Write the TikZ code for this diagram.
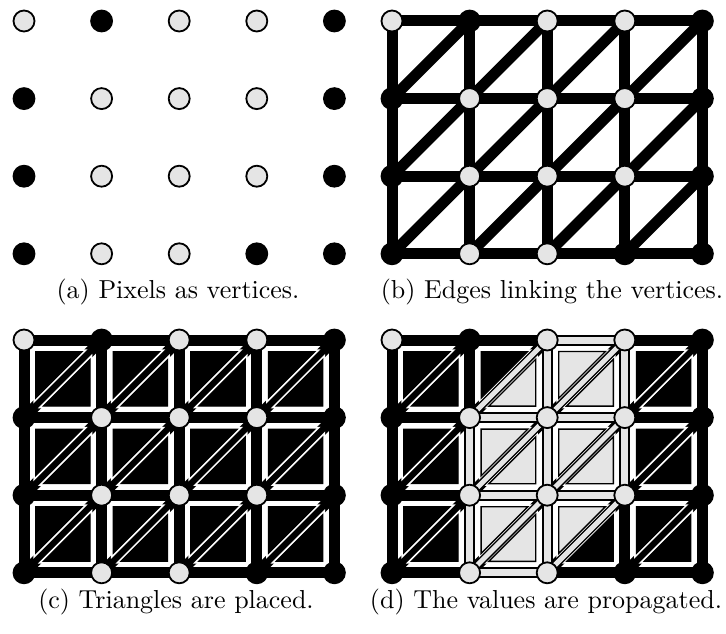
\documentclass[tikz,border=0pt]{standalone}
\usepackage{fontspec}
\definecolor{lgray}{gray}{0.9}
\def\pat{{0,1,0,0,1,1,0,0,0,1,1,0,0,0,1,1,0,0,1,1}}
\tikzset{
  blackedge/.style={line width=11pt, draw=black},
  lightcore/.style={line width=7pt, draw=lgray},
  diagborder/.style={line width=8pt, draw=black},
  diagcore/.style={line width=5pt, draw=lgray},
  vlight/.style={circle, draw=black, line width=1.8pt, fill=lgray, minimum size=21pt, inner sep=0pt},
  vdark/.style={circle, draw=black, line width=1.8pt, fill=black, minimum size=21pt, inner sep=0pt},
  trihalo/.style={draw=white, line width=4.5pt},
  tridark/.style={fill=black, draw=black, line width=1pt},
  trilight/.style={fill=lgray, draw=black, line width=1.4pt},
  captext/.style={font=\fontsize{10}{12}\selectfont, scale=2.6, inner sep=0pt}
}
\newcommand\mkcoords[3]{%
  \foreach \c in {0,...,4}{\foreach \r in {0,...,3}{%
    \coordinate (#1-\c-\r) at ({#2+\c*77.6},{#3+\r*77.6});}}}
\newcommand\mkverts[1]{%
  \foreach \c in {0,...,4}{\foreach \r in {0,...,3}{%
    \pgfmathtruncatemacro\vk{\pat[\r*5+\c]}%
    \ifnum\vk=1 \node[vdark] (v#1-\c-\r) at (#1-\c-\r) {};%
    \else \node[vlight] (v#1-\c-\r) at (#1-\c-\r) {};\fi}}}
\newcommand\mkedges[1]{%
  \foreach \r in {0,...,3}{\foreach \c in {0,...,3}{%
    \pgfmathtruncatemacro\cn{\c+1}%
    \draw[blackedge] (#1-\c-\r) -- (#1-\cn-\r);}}%
  \foreach \c in {0,...,4}{\foreach \r in {0,...,2}{%
    \pgfmathtruncatemacro\rn{\r+1}%
    \draw[blackedge] (#1-\c-\r) -- (#1-\c-\rn);}}%
  \foreach \c in {0,...,3}{\foreach \r in {0,...,2}{%
    \pgfmathtruncatemacro\rn{\r+1}\pgfmathtruncatemacro\cn{\c+1}%
    \draw[blackedge] (#1-\c-\rn) -- (#1-\cn-\r);}}}
\newcommand\mklightcores[1]{%
  \foreach \r in {0,...,3}{\foreach \c in {0,...,3}{%
    \pgfmathtruncatemacro\cn{\c+1}%
    \pgfmathtruncatemacro\sm{\pat[\r*5+\c]+\pat[\r*5+\c+1]}%
    \ifnum\sm=0 \draw[lightcore] (#1-\c-\r) -- (#1-\cn-\r);\fi}}%
  \foreach \c in {0,...,4}{\foreach \r in {0,...,2}{%
    \pgfmathtruncatemacro\rn{\r+1}%
    \pgfmathtruncatemacro\sm{\pat[\r*5+\c]+\pat[(\r+1)*5+\c]}%
    \ifnum\sm=0 \draw[lightcore] (#1-\c-\r) -- (#1-\c-\rn);\fi}}}
\newcommand\mklightdiags[1]{%
  \foreach \c in {0,...,3}{\foreach \r in {0,...,2}{%
    \pgfmathtruncatemacro\rn{\r+1}\pgfmathtruncatemacro\cn{\c+1}%
    \pgfmathtruncatemacro\sm{\pat[(\r+1)*5+\c]+\pat[\r*5+\c+1]}%
    \ifnum\sm=0 \draw[diagborder] (#1-\c-\rn) -- (#1-\cn-\r);
      \draw[diagcore] (#1-\c-\rn) -- (#1-\cn-\r);\fi}}}
\newcommand\mktris[2]{%
  \foreach \c in {0,...,3}{\foreach \r in {0,...,2}{%
    \pgfmathtruncatemacro\su{\pat[\r*5+\c]+\pat[\r*5+\c+1]+\pat[(\r+1)*5+\c]}%
    \pgfmathtruncatemacro\sl{\pat[\r*5+\c+1]+\pat[(\r+1)*5+\c+1]+\pat[(\r+1)*5+\c]}%
    \ifnum#2=0 \def\su{1}\def\sl{1}\fi
    \begin{scope}[shift={(#1-\c-\r)}]
      \draw[trihalo] (11.5,11.5) -- (58.3,11.5) -- (11.5,58.3) -- cycle;
      \draw[trihalo] (66.1,66.1) -- (66.1,19.3) -- (19.3,66.1) -- cycle;
      \ifnum\su=0 \filldraw[trilight] (11.5,11.5) -- (58.3,11.5) -- (11.5,58.3) -- cycle;
      \else \filldraw[tridark] (11.5,11.5) -- (58.3,11.5) -- (11.5,58.3) -- cycle;\fi
      \ifnum\sl=0 \filldraw[trilight] (66.1,66.1) -- (66.1,19.3) -- (19.3,66.1) -- cycle;
      \else \filldraw[tridark] (66.1,66.1) -- (66.1,19.3) -- (19.3,66.1) -- cycle;\fi
    \end{scope}}}}
\begin{document}
\begin{tikzpicture}[x=1pt,y=-1pt]
\useasboundingbox[fill=white] (0,0) rectangle (726,634);
\mkcoords{a}{24}{21}
\mkcoords{b}{392}{21}
\mkcoords{c}{24}{340}
\mkcoords{d}{392}{340}
% (a)
\mkverts{a}
% (b)
\mkedges{b}
\mkverts{b}
% (c)
\mkedges{c}
\mktris{c}{0}
\mkverts{c}
% (d)
\mkedges{d}
\mklightcores{d}
\mktris{d}{1}
\mklightdiags{d}
\mkverts{d}
% captions
\node[captext] (capa) at (178,292) {(a) Pixels as vertices.};
\node[captext] (capb) at (552,292) {(b) Edges linking the vertices.};
\node[captext] (capc) at (176,602) {(c) Triangles are placed.};
\node[captext] (capd) at (546,602) {(d) The values are propagated.};
\end{tikzpicture}
\end{document}
